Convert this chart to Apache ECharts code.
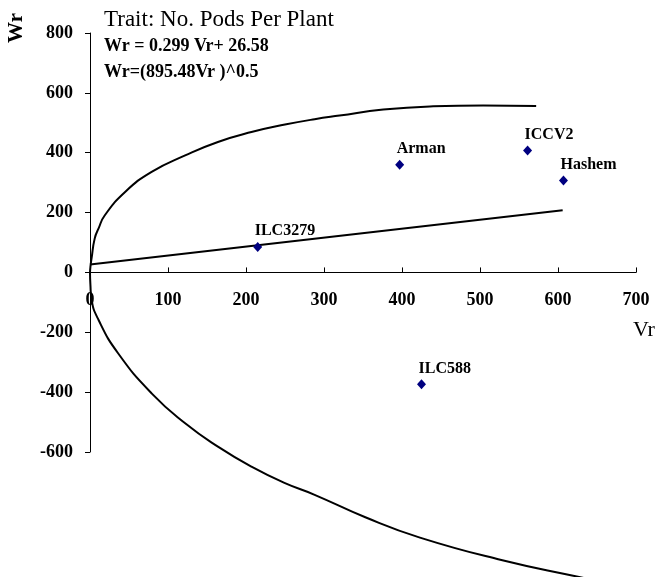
<!DOCTYPE html>
<html>
<head>
<meta charset="utf-8">
<script src="https://cdn.jsdelivr.net/npm/echarts@6/dist/echarts.min.js"></script>
<style>
html,body{margin:0;padding:0;background:#fff;}
#chart{width:658px;height:577px;}
</style>
</head>
<body>
<div id="chart"></div>
<script>
// ---- data ----
var parentNames = ['ILC3279', 'Arman', 'ICCV2', 'Hashem', 'ILC588'];
var parentVr = [215, 397, 561, 607, 425];
var parentWr = [85, 360, 407, 307, -374];

var regVr = [0, 606];
var regWr = [26.6, 208];

var upperVr = [0, 0.5, 2, 6, 11, 19, 45, 79, 122, 164, 207, 250, 288, 320, 376, 440, 504, 572];
var upperWr = [0, 18, 47, 113, 147, 191, 269, 336, 391, 436, 469, 494, 512, 524, 544, 555, 558, 556];

var lowerVr = [0, 0.5, 2, 11, 36, 79, 122, 164, 207, 250, 288, 353, 423, 526, 624, 660];
var lowerWr = [0, -40, -90, -159, -270, -404, -504, -582, -649, -704, -743, -818, -886, -960, -1016, -1035];

var xTicks = {min: 0, max: 700, interval: 100};
var yTicks = {min: -600, max: 800, interval: 200};

var titleText = 'Trait: No. Pods Per Plant';
var eqLine = 'Wr = 0.299 Vr+ 26.58';
var eqParabola = 'Wr=(895.48Vr )^0.5';

function zip(a, b) { return a.map(function (v, i) { return [v, b[i]]; }); }

var FONT = '"Liberation Serif", "Times New Roman", serif';
var GRID = {left: 90, right: 22, top: 33, bottom: 125};
var chartH = 577;
// place the x axis on the Wr = 0 line
var plotH = chartH - GRID.top - GRID.bottom;
var zeroFromBottom = plotH * (0 - yTicks.min) / (yTicks.max - yTicks.min);

var chart = echarts.init(document.getElementById('chart'), null, {renderer: 'canvas'});

chart.setOption({
  animation: false,
  backgroundColor: '#ffffff',
  title: [
    {text: titleText, left: 104, top: 8, padding: 0,
     textStyle: {fontFamily: FONT, fontWeight: 'normal', fontSize: 23, color: '#000'}},
    {text: eqLine, left: 104, top: 37, padding: 0,
     textStyle: {fontFamily: FONT, fontWeight: 'bold', fontSize: 18, color: '#000'}},
    {text: eqParabola, left: 104, top: 63, padding: 0,
     textStyle: {fontFamily: FONT, fontWeight: 'bold', fontSize: 18, color: '#000'}}
  ],
  graphic: [
    {type: 'text', x: 17, y: 28, rotation: Math.PI / 2,
     style: {text: 'Wr', fontFamily: FONT, fontWeight: 'bold', fontSize: 21, fill: '#000',
             align: 'center', verticalAlign: 'middle'}},
    {type: 'text', x: 644, y: 330,
     style: {text: 'Vr', fontFamily: FONT, fontSize: 22, fill: '#000',
             align: 'center', verticalAlign: 'middle'}}
  ],
  grid: {left: GRID.left, right: GRID.right, top: GRID.top, bottom: GRID.bottom, containLabel: false},
  xAxis: {
    type: 'value', min: xTicks.min, max: xTicks.max, interval: xTicks.interval,
    offset: -zeroFromBottom,
    axisLine: {show: true, onZero: false, lineStyle: {color: '#000', width: 1}},
    axisTick: {show: true, inside: true, length: 5, lineStyle: {color: '#000'}},
    axisLabel: {margin: 19, fontFamily: FONT, fontWeight: 'bold', fontSize: 18, color: '#000'},
    splitLine: {show: false}
  },
  yAxis: {
    type: 'value', min: yTicks.min, max: yTicks.max, interval: yTicks.interval,
    axisLine: {show: true, onZero: false, lineStyle: {color: '#000', width: 1}},
    axisTick: {show: true, inside: false, length: 5, lineStyle: {color: '#000'}},
    axisLabel: {margin: 17, fontFamily: FONT, fontWeight: 'bold', fontSize: 18, color: '#000'},
    splitLine: {show: false}
  },
  series: [
    {type: 'line', data: zip(upperVr, upperWr), smooth: 0.5, symbol: 'none', clip: false,
     lineStyle: {color: '#000', width: 2}, z: 3},
    {type: 'line', data: zip(lowerVr, lowerWr), smooth: 0.5, symbol: 'none', clip: false,
     lineStyle: {color: '#000', width: 2}, z: 3},
    {type: 'line', data: zip(regVr, regWr), symbol: 'none',
     lineStyle: {color: '#000', width: 2}, z: 3},
    {type: 'scatter', data: zip(parentVr, parentWr), symbol: 'diamond', symbolSize: [9, 10],
     itemStyle: {color: '#000080', opacity: 1}, z: 5,
     label: {show: true, position: [1.5, -19],
             formatter: function (p) { return parentNames[p.dataIndex]; },
             fontFamily: FONT, fontWeight: 'bold', fontSize: 16, color: '#000'}}
  ]
});
</script>
</body>
</html>
